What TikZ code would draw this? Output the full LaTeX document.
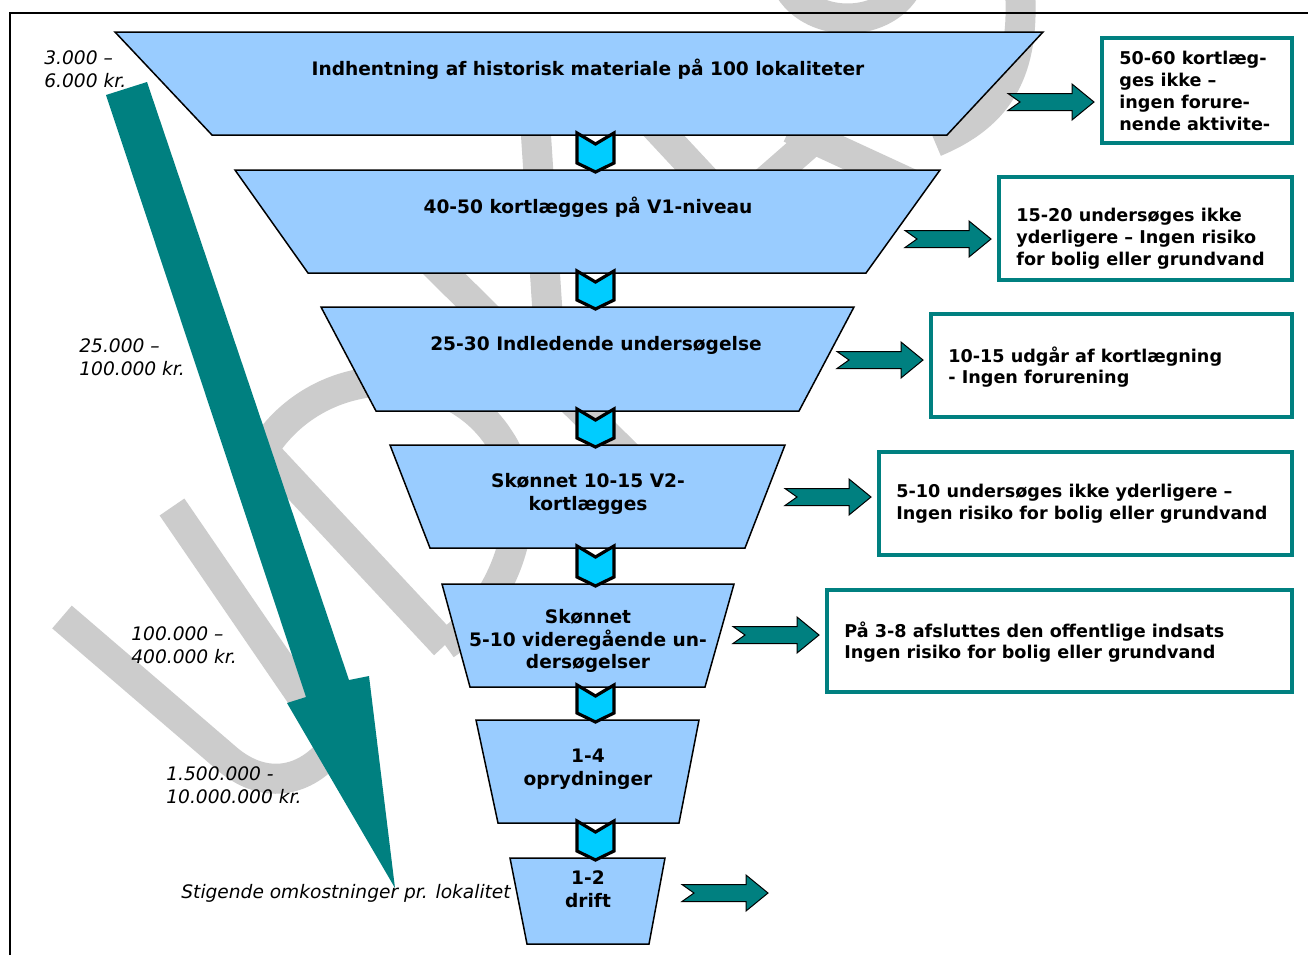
\documentclass[tikz,border=0pt]{standalone}
\usepackage{fontspec}
\setmainfont{DejaVu Sans}
\definecolor{trapfill}{HTML}{99CCFF}
\definecolor{chevfill}{HTML}{00CCFF}
\definecolor{tealc}{HTML}{008080}
\definecolor{wmc}{HTML}{CCCCCC}
\begin{document}
\begin{tikzpicture}[x=0.5pt,y=-0.5pt,
  trap/.style={fill=trapfill,draw=black,line width=0.75pt,line join=miter},
  chev/.style={fill=chevfill,draw=black,line width=1.6pt,line join=miter},
  barrow/.style={fill=tealc,draw=black,line width=0.5pt,line join=miter},
  infobox/.style={draw=tealc,line width=1.6pt,fill=white},
  ttext/.style={font=\fontsize{9.3}{11.3}\selectfont\bfseries,align=center,inner sep=0pt},
  btext/.style={font=\fontsize{8.8}{10.9}\selectfont\bfseries,align=left,anchor=west,inner sep=0pt},
  ctext/.style={font=\fontsize{9.3}{11.5}\selectfont\itshape,align=left,anchor=west,inner sep=0pt},
  wmband/.style={draw=wmc,line width=15pt}
]
\useasboundingbox (0,0) rectangle (1308,955);
\fill[white] (0,0) rectangle (1308,955);

% watermark (approximate)
\draw[wmband] (62,617) -- (225,757) .. controls (262,790) and (305,785) .. (335,745) -- (172,507);
\draw[wmband] (263,450) -- (445,645);
\draw[wmband] (263,450) .. controls (320,360) and (450,360) .. (500,440) .. controls (540,500) and (510,600) .. (445,645);
\draw[wmband] (400,230) -- (640,468);
\draw[wmband] (535,120) -- (548,320);
\draw[wmband] (640,110) -- (722,198);
\draw[wmband] (750,195) -- (830,125);
\draw[wmband] (790,128) -- (920,188);
\draw[wmband] (790,-10) .. controls (815,28) and (880,28) .. (905,-10);
\draw[wmband] (1020,-10) .. controls (1025,70) and (1000,115) .. (935,142);

% border
\draw[line width=1.2pt] (10,955) -- (10,13) -- (1308,13);

% cost labels
\node[ctext] (c1) at (44,69.5) {3.000 –\\6.000 kr.};
\node[ctext] (c2) at (79,357.5) {25.000 –\\100.000 kr.};
\node[ctext] (c3) at (131,645.5) {100.000 –\\400.000 kr.};
\node[ctext] (c4) at (166,785.5) {1.500.000 -\\10.000.000 kr.};
\node[ctext] (c5) at (181,893) {Stigende omkostninger pr. lokalitet};

% big cost arrow
\fill[tealc] (106,95) -- (147,82) -- (349,680) -- (369,676) -- (395,888) -- (287,703) -- (306,697) -- cycle;

% funnel
\path[trap] (115,32) -- (1043,32) -- (947,135) -- (212,135) -- cycle;
\path[trap] (235,170) -- (940,170) -- (866,273) -- (308,273) -- cycle;
\path[trap] (321,307) -- (854,307) -- (799,411) -- (376,411) -- cycle;
\path[trap] (390,445) -- (785,445) -- (745,548) -- (430,548) -- cycle;
\path[trap] (442,584) -- (734,584) -- (705,687) -- (470,687) -- cycle;
\path[trap] (476,720) -- (699,720) -- (679,823) -- (498,823) -- cycle;
\path[trap] (510,858) -- (665,858) -- (649,944) -- (527,944) -- cycle;

\node[ttext] (t1) at (588,69) {Indhentning af historisk materiale på 100 lokaliteter};
\node[ttext] (t2) at (588,207) {40-50 kortlægges på V1-niveau};
\node[ttext] (t3) at (596,345) {25-30 Indledende undersøgelse};
\node[ttext] (t4) at (588,494) {Skønnet 10-15 V2-\\kortlægges};
\node[ttext] (t5) at (588,641) {Skønnet\\5-10 videregående un-\\dersøgelser};
\node[ttext] (t6) at (588,769) {1-4\\oprydninger};
\node[ttext] (t7) at (588,889) {1-2\\drift};

% chevrons
\foreach \t/\b in {135/170,273/307,411/445,548/584,687/720,823/858}
  \path[chev] (577,\t-2) -- (595.5,\t+9) -- (614,\t-2) -- (614,\b-7) -- (595.5,\b+2) -- (577,\b-7) -- cycle;

% side arrows
\foreach \x/\y in {1008/102,905/239,837/360,785/497,733/635,682/893}
  \path[barrow] (\x,\y-8.5) -- (\x+64,\y-8.5) -- (\x+64,\y-18) -- (\x+86,\y) -- (\x+64,\y+18) -- (\x+64,\y+8.5) -- (\x,\y+8.5) -- (\x+12,\y) -- cycle;

% boxes
\path[infobox] (1102,38) rectangle (1292,143);
\path[infobox] (999,177) rectangle (1292,280);
\path[infobox] (931,314) rectangle (1292,417);
\path[infobox] (879,452) rectangle (1292,555);
\path[infobox] (827,590) rectangle (1292,692);

\node[btext] (b1) at (1119,91) {50-60 kortlæg-\\ges ikke –\\ingen forure-\\nende aktivite-};
\node[btext] (b2) at (1016,239) {15-20 undersøges ikke\\yderligere – Ingen risiko\\for bolig eller grundvand};
\node[btext] (b3) at (948,367) {10-15 udgår af kortlægning\\- Ingen forurening};
\node[btext] (b4) at (896,504) {5-10 undersøges ikke yderligere –\\Ingen risiko for bolig eller grundvand};
\node[btext] (b5) at (844,642) {På 3-8 afsluttes den offentlige indsats\\Ingen risiko for bolig eller grundvand};
\end{tikzpicture}
\end{document}
